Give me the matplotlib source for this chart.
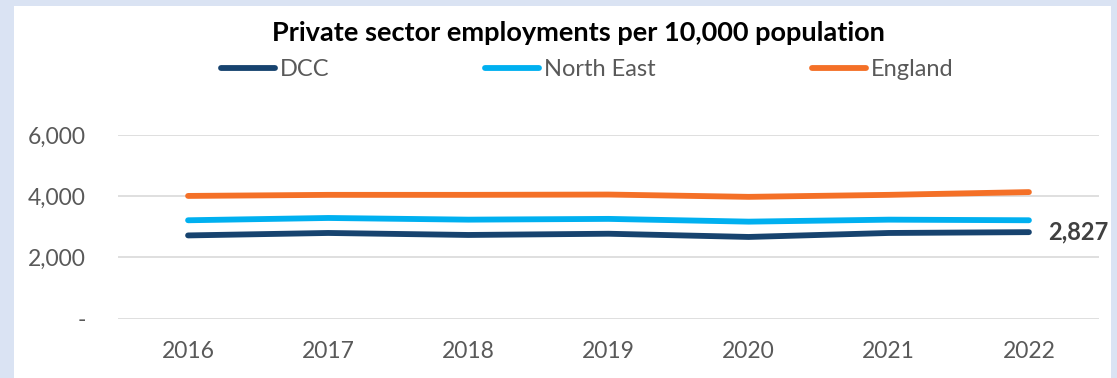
import matplotlib
matplotlib.use("Agg")
import matplotlib.pyplot as plt
from matplotlib.patches import Rectangle
from matplotlib.lines import Line2D
from matplotlib.ticker import FuncFormatter

years = ["2016", "2017", "2018", "2019", "2020", "2021", "2022"]
dcc = [2720, 2800, 2735, 2775, 2670, 2800, 2827]
north_east = [3215, 3290, 3235, 3260, 3170, 3235, 3215]
england = [4010, 4045, 4045, 4055, 3980, 4045, 4135]
series_names = ["DCC", "North East", "England"]
colors = ["#17436f", "#00b0f0", "#f47027"]

W, H = 1117, 378
fig = plt.figure(figsize=(W / 100, H / 100), dpi=100)
fig.patch.set_facecolor("#dae3f3")
fig.patches.append(Rectangle((14 / W, 0), (1111 - 14) / W, (H - 6) / H,
                             transform=fig.transFigure, facecolor="white",
                             edgecolor="none", zorder=-5))

font = "Lato"
ax = fig.add_axes([118 / W, 1 - 318.7 / H, (1099 - 118) / W, (318.7 - 135) / H])
ax.set_zorder(2)
ax.set_facecolor("none")
x = list(range(len(years)))
for vals, c in zip([dcc, north_east, england], colors):
    ax.plot(x, vals, color=c, lw=4.2, solid_capstyle="round", solid_joinstyle="round", zorder=3)

ax.set_xlim(-0.5, len(years) - 0.5)
ax.set_ylim(0, 6000)
ax.set_yticks([0, 2000, 4000, 6000])
ax.yaxis.set_major_formatter(FuncFormatter(lambda v, p: "-" if v == 0 else f"{int(v):,}"))
ax.set_xticks(x)
ax.set_xticklabels(years)
ax.grid(axis="y", color="#d9d9d9", lw=1.2)
ax.set_axisbelow(True)
for s in ax.spines.values():
    s.set_visible(False)
ax.tick_params(length=0, labelsize=16.5, labelcolor="#595959")
ax.tick_params(axis="y", pad=23)
ax.tick_params(axis="x", pad=16)
for lab in ax.get_xticklabels() + ax.get_yticklabels():
    lab.set_fontfamily(font)

ax.annotate(f"{dcc[-1]:,}", xy=(x[-1], dcc[-1]), xytext=(14, 0), textcoords="offset points",
            fontsize=17, fontweight="bold", color="#404040", va="center", ha="left",
            family=font, annotation_clip=False)

fig.text(578 / W, 1 - 33 / H, "Private sector employments per 10,000 population",
         ha="center", va="center", fontsize=19.5, fontweight="bold", family=font, color="black")

handles = [Line2D([0], [0], color=c, lw=4.2, solid_capstyle="round") for c in colors]
leg = fig.legend(handles, series_names, loc="center", bbox_to_anchor=(587 / W, 1 - 70 / H),
                 ncol=3, frameon=False, handlelength=2.3, handletextpad=0.2,
                 columnspacing=6.6, prop={"family": font, "size": 17})
for t in leg.get_texts():
    t.set_color("#595959")

fig.savefig("out.png", dpi=100, facecolor=fig.get_facecolor())
